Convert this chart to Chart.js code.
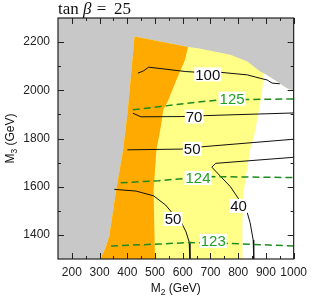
<!DOCTYPE html>
<html>
<head>
<meta charset="utf-8">
<script src="https://cdn.jsdelivr.net/npm/chart.js@4"></script>
<style>
html,body{margin:0;padding:0;background:#fff;}
#wrap{width:313px;height:301px;position:relative;}
</style>
</head>
<body>
<div id="wrap"><canvas id="c" width="313" height="301"></canvas></div>
<script>
// ---------- data (GeV) ----------
const xTickLabels = [200, 300, 400, 500, 600, 700, 800, 900, 1000];
const xMinorTicks = [250, 350, 450, 550, 650, 750, 850, 950];
const yTickLabels = [1400, 1600, 1800, 2000, 2200];
const yMinorTicks = [1500, 1700, 1900, 2100];

// region boundaries
const yellowRegion = [
  [426,2223],[619,2180],[655,2175],[772,2147],[833,2119],[879,2078],[892,2071],
  [939,2036],[975,2009],[1000,1998],[1000,1300],[303,1300],[321,1346],[335,1395],
  [360,1587],[385,1753],[402,1919],[426,2223]
];
const whiteRegion = [
  [892,2071],[939,2036],[975,2009],[1000,1998],[1000,1300],[815,1300],[815,1450],
  [820,1580],[830,1660],[843,1753],[857,1808],[875,1919],[886,1990],[892,2071]
];
const orangeRegion = [
  [426,2223],[619,2180],[608,2126],[577,2043],[548,1960],[530,1919],[519,1836],
  [505,1753],[495,1587],[497,1450],[500,1300],[303,1300],[321,1346],[335,1395],
  [360,1587],[385,1753],[402,1919],[426,2223]
];

// black contours
const c100 = [[438,2071],[459,2081],[477,2096],[609,2078],[690,2072],[733,2075],[833,2064],[879,2050],[904,2043],[922,2030],[950,2027]];
const c70  = [[420,1905],[449,1890],[594,1891],[683,1895],[1000,1906]];
const c50a = [[400,1753],[594,1756],[673,1766],[1000,1797]];
const c40  = [[1000,1722],[719,1697],[705,1681],[737,1642],[772,1600],[804,1545],[833,1491],[843,1450],[854,1379],[856,1300]];
const c50b = [[353,1589],[431,1582],[495,1562],[538,1524],[562,1491],[594,1454],[612,1412],[623,1371],[626,1300]];

// green dashed contours (Higgs mass)
const h125 = [[420,1919],[513,1932],[655,1951],[733,1960],[833,1962],[1000,1964]];
const h124 = [[376,1616],[513,1625],[605,1634],[701,1642],[1000,1638]];
const h123 = [[341,1354],[513,1362],[619,1368],[755,1365],[1000,1354]];

// contour labels
const labelText = ['100', '70', '50', '40', '50', '125', '124', '123'];
const labelX    = [690, 641, 634, 801, 565, 778, 655, 710];
const labelY    = [2066, 1891, 1757, 1520, 1466, 1965, 1636, 1375];
const labelKind = ['k', 'k', 'k', 'k', 'k', 'g', 'g', 'g'];

// ---------- chart ----------
const pts = a => a.map(p => ({x: p[0], y: p[1]}));
const region = (d, color, order) => ({
  data: pts(d), fill: 'shape', backgroundColor: color, borderWidth: 0,
  borderColor: 'rgba(0,0,0,0)', pointRadius: 0, tension: 0, order: order
});
const black = (d) => ({data: pts(d), borderColor: '#111', borderWidth: 1, pointRadius: 0, fill: false, tension: 0, order: 2});
const green = (d) => ({data: pts(d), borderColor: '#1f8a1f', borderWidth: 1.5, borderDash: [7,4], pointRadius: 0, fill: false, tension: 0, order: 1});

const FONT = '"Liberation Sans", Arial, sans-serif';

const decor = {
  id: 'decor',
  beforeDatasetsDraw(chart) {
    const {ctx, chartArea: a} = chart;
    ctx.save();
    ctx.fillStyle = '#c8c8c8';
    ctx.fillRect(a.left, a.top, a.right - a.left, a.bottom - a.top);
    ctx.restore();
  },
  afterDatasetsDraw(chart) {
    const {ctx, chartArea: a, scales} = chart;
    const xs = scales.x, ys = scales.y;
    ctx.save();
    // contour labels
    ctx.font = '15px ' + FONT;
    ctx.textAlign = 'center';
    ctx.textBaseline = 'middle';
    for (let i = 0; i < labelText.length; i++) {
      const px = xs.getPixelForValue(labelX[i]);
      const py = ys.getPixelForValue(labelY[i]);
      const w = ctx.measureText(labelText[i]).width;
      ctx.fillStyle = '#fff';
      ctx.fillRect(px - w / 2 - 1, py - 7, w + 2, 14);
      ctx.fillStyle = labelKind[i] === 'g' ? '#22a022' : '#111';
      ctx.fillText(labelText[i], px, py + 1);
    }
    // frame
    ctx.strokeStyle = '#222';
    ctx.lineWidth = 1.2;
    ctx.strokeRect(a.left, a.top, a.right - a.left, a.bottom - a.top);
    // inward ticks on all four sides
    ctx.lineWidth = 1;
    const tickX = (v, len) => {
      const px = Math.round(xs.getPixelForValue(v)) + 0.5;
      ctx.beginPath();
      ctx.moveTo(px, a.bottom); ctx.lineTo(px, a.bottom - len);
      ctx.moveTo(px, a.top); ctx.lineTo(px, a.top + len);
      ctx.stroke();
    };
    const tickY = (v, len) => {
      const py = Math.round(ys.getPixelForValue(v)) + 0.5;
      ctx.beginPath();
      ctx.moveTo(a.left, py); ctx.lineTo(a.left + len, py);
      ctx.moveTo(a.right, py); ctx.lineTo(a.right - len, py);
      ctx.stroke();
    };
    xTickLabels.forEach(v => tickX(v, 6));
    xMinorTicks.forEach(v => tickX(v, 3));
    yTickLabels.forEach(v => tickY(v, 6));
    yMinorTicks.forEach(v => tickY(v, 3));
    ctx.restore();
  },
  afterDraw(chart) {
    const {ctx, chartArea: a} = chart;
    ctx.save();
    ctx.fillStyle = '#111';
    ctx.textBaseline = 'alphabetic';
    // title: tan β = 25
    const serif = '"Liberation Serif", "DejaVu Serif", serif';
    ctx.textAlign = 'left';
    ctx.font = '17px ' + serif;
    ctx.fillText('tan', 58, 13.5);
    ctx.font = 'italic 17px ' + serif;
    ctx.fillText('β', 83, 13.5);
    ctx.font = '17px ' + serif;
    ctx.textAlign = 'center';
    ctx.fillText('=', 101.5, 13.5);
    ctx.textAlign = 'left';
    ctx.fillText('25', 114, 13.5);

    // axis titles with subscripts
    const drawSub = (main, sub, rest, cx, cy) => {
      ctx.font = '12px ' + FONT;
      const w1 = ctx.measureText(main).width;
      const w3 = ctx.measureText(rest).width;
      ctx.font = '8.5px ' + FONT;
      const w2 = ctx.measureText(sub).width;
      const total = w1 + w2 + w3;
      let x = cx - total / 2;
      ctx.textAlign = 'left';
      ctx.font = '12px ' + FONT;
      ctx.fillText(main, x, cy); x += w1;
      ctx.font = '8.5px ' + FONT;
      ctx.fillText(sub, x, cy + 3); x += w2;
      ctx.font = '12px ' + FONT;
      ctx.fillText(rest, x, cy);
    };
    drawSub('M', '2', ' (GeV)', (a.left + a.right) / 2, 292);
    ctx.save();
    ctx.translate(13.5, (a.top + a.bottom) / 2);
    ctx.rotate(-Math.PI / 2);
    drawSub('M', '3', ' (GeV)', 0, 0);
    ctx.restore();
    ctx.restore();
  }
};

new Chart(document.getElementById('c'), {
  type: 'line',
  data: {
    datasets: [
      green(h125), green(h124), green(h123),
      black(c100), black(c70), black(c50a), black(c40), black(c50b),
      region(orangeRegion, '#ffaa00', 10),
      region(whiteRegion, '#ffffff', 11),
      region(yellowRegion, '#ffff88', 12)
    ]
  },
  options: {
    responsive: false,
    animation: false,
    devicePixelRatio: 1,
    layout: {padding: {top: 18, right: 16, left: 0, bottom: 0}},
    plugins: {legend: {display: false}, tooltip: {enabled: false}, title: {display: false}},
    elements: {line: {borderJoinStyle: 'round'}},
    scales: {
      x: {
        type: 'linear', position: 'bottom', min: 150, max: 1000,
        afterBuildTicks: s => { s.ticks = xTickLabels.map(v => ({value: v})); },
        afterFit: s => { s.height = 42; },
        grid: {display: false, drawTicks: false},
        border: {display: false},
        ticks: {font: {family: FONT, size: 12}, color: '#222', padding: 6, maxRotation: 0, autoSkip: false,
                callback: v => String(v)}
      },
      y: {
        type: 'linear', position: 'left', min: 1300, max: 2300,
        afterBuildTicks: s => { s.ticks = yTickLabels.map(v => ({value: v})); },
        afterFit: s => { s.width = 58; },
        grid: {display: false, drawTicks: false},
        border: {display: false},
        ticks: {font: {family: FONT, size: 12}, color: '#222', padding: 8, autoSkip: false,
                callback: v => String(v)}
      }
    }
  },
  plugins: [decor]
});
</script>
</body>
</html>
